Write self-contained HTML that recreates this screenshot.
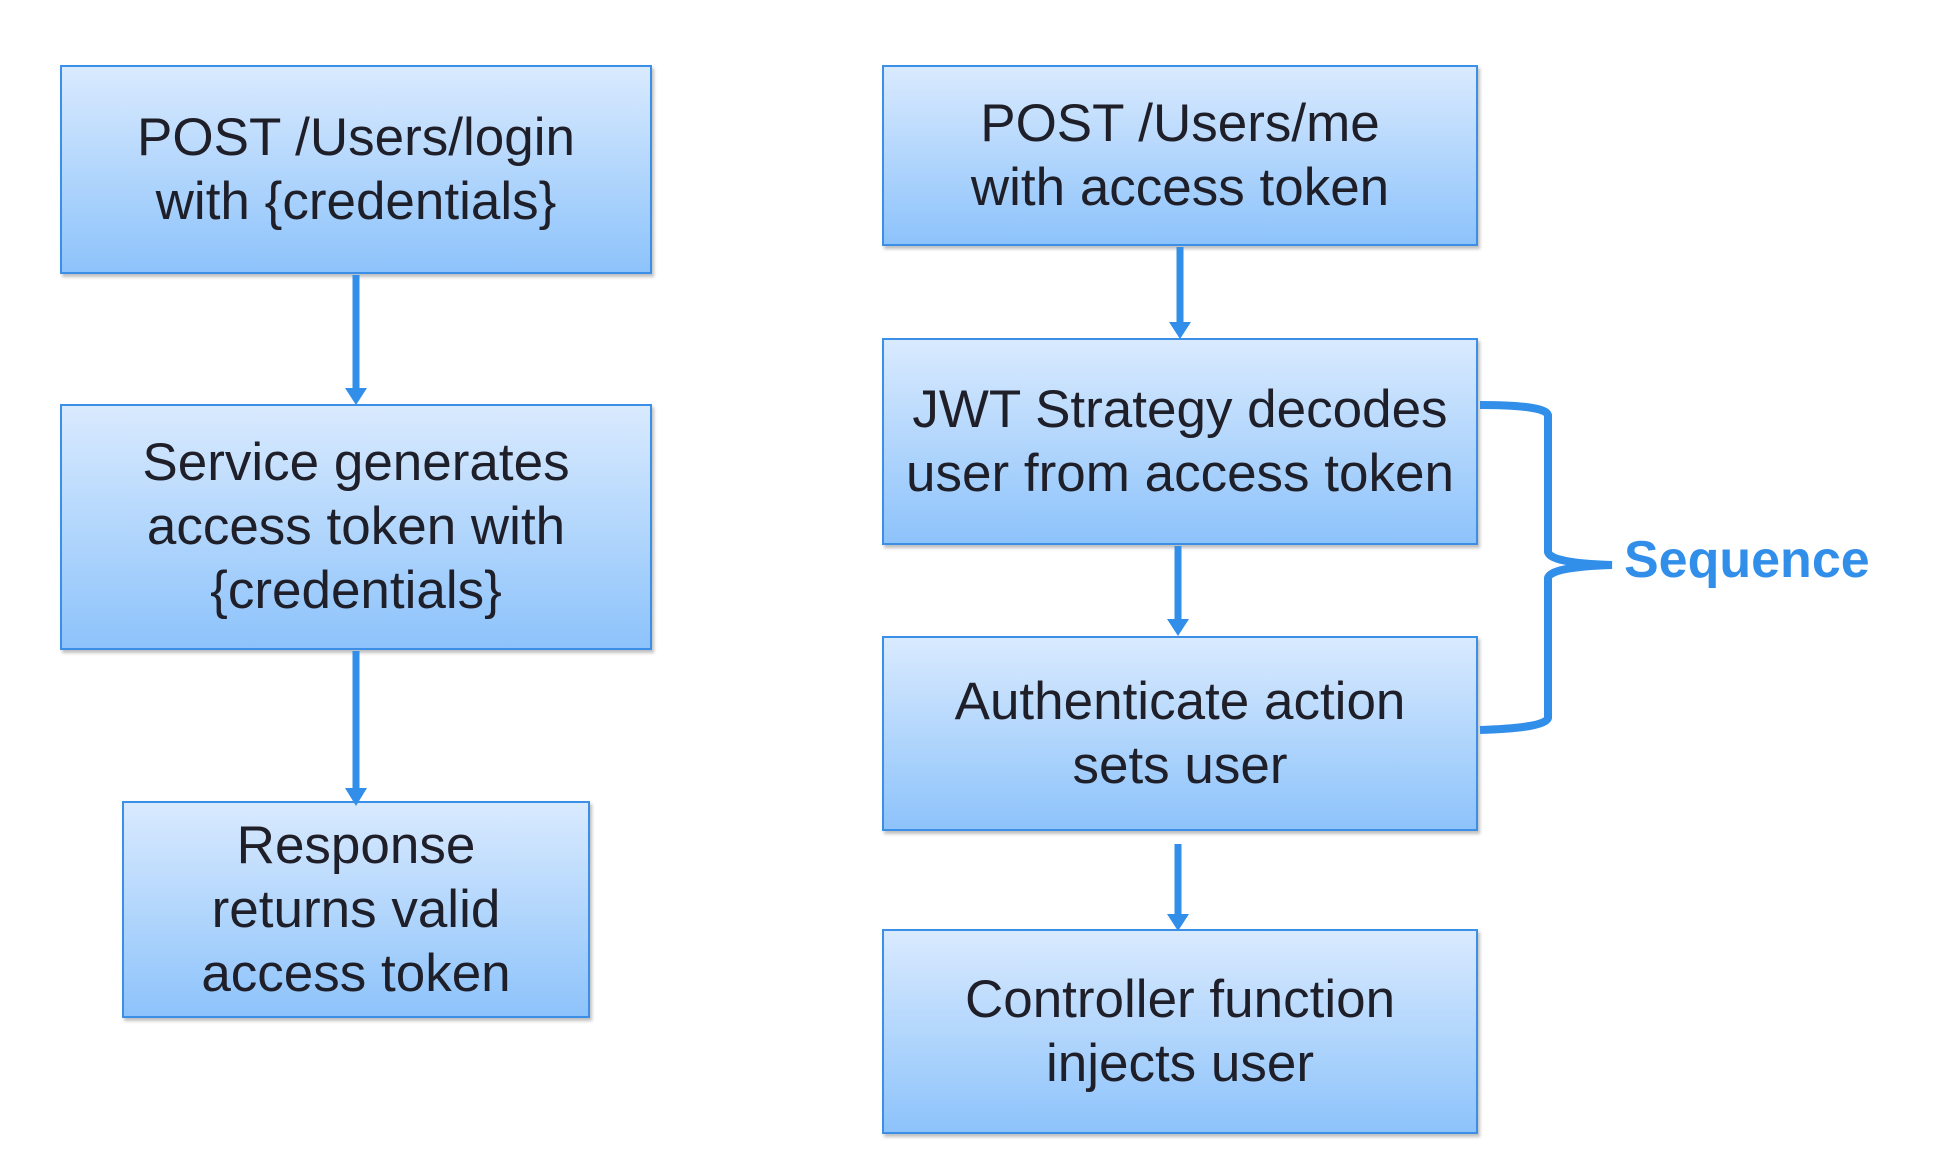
<!DOCTYPE html>
<html><head><style>
body{margin:0;width:1958px;height:1162px;background:#fff;position:relative;overflow:hidden;font-family:"Liberation Sans",sans-serif;}
.b{position:absolute;box-sizing:border-box;border:2px solid #3b8fe6;background:linear-gradient(#d9eafe,#8dc3fb);display:flex;align-items:center;justify-content:center;text-align:center;font-size:53px;line-height:64px;color:#1f1f2a;box-shadow:2px 3px 3px rgba(0,0,0,0.25);}
svg{position:absolute;left:0;top:0}
</style></head><body>
<div class="b" style="left:60px;top:65px;width:592px;height:209px">POST /Users/login<br>with {credentials}</div>
<div class="b" style="left:60px;top:404px;width:592px;height:246px">Service generates<br>access token with<br>{credentials}</div>
<div class="b" style="left:122px;top:801px;width:468px;height:217px">Response<br>returns valid<br>access token</div>
<div class="b" style="left:882px;top:65px;width:596px;height:181px">POST /Users/me<br>with access token</div>
<div class="b" style="left:882px;top:338px;width:596px;height:207px">JWT Strategy decodes<br>user from access token</div>
<div class="b" style="left:882px;top:636px;width:596px;height:195px">Authenticate action<br>sets user</div>
<div class="b" style="left:882px;top:929px;width:596px;height:205px">Controller function<br>injects user</div>
<svg width="1958" height="1162">
<g stroke="#318fea" stroke-width="7" fill="none">
<line x1="356" y1="275" x2="356" y2="390"/>
<line x1="356" y1="651" x2="356" y2="790"/>
<line x1="1180" y1="247" x2="1180" y2="325"/>
<line x1="1178" y1="546" x2="1178" y2="622"/>
<line x1="1178" y1="844" x2="1178" y2="917"/>
<path stroke-width="8" d="M1480 405 Q1545 405 1548 415 L1548 552 Q1550 563 1612 565 Q1550 567 1548 578 L1548 718 Q1545 728 1480 730"/>
</g>
<g fill="#318fea">
<polygon points="345,388 367,388 356,405"/>
<polygon points="345,788 367,788 356,806"/>
<polygon points="1169,322 1191,322 1180,339"/>
<polygon points="1167,619 1189,619 1178,636"/>
<polygon points="1167,914 1189,914 1178,931"/>
</g>
<text x="1624" y="577" font-family="Liberation Sans, sans-serif" font-weight="bold" font-size="52" fill="#318fea">Sequence</text>
</svg>
</body></html>
